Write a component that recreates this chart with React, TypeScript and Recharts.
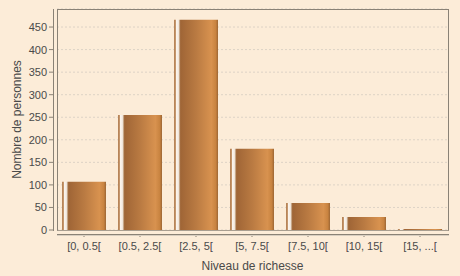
import { BarChart, Bar, XAxis, YAxis, CartesianGrid } from 'recharts'

const categories = ['[0, 0.5[', '[0.5, 2.5[', '[2.5, 5[', '[5, 7.5[', '[7.5, 10[', '[10, 15[', '[15, ...[']
const personnes = [107, 255, 466, 180, 60, 29, 2]
const yTicks = [0, 50, 100, 150, 200, 250, 300, 350, 400, 450]

const data = categories.map((c, i) => ({ cat: c, n: personnes[i] }))

const BG = '#FCECD8'
const AXIS = '#8A8276'
const TEXT = '#4a4a4a'
const FONT = '"Liberation Sans", Arial, sans-serif'

function YTick(props: any) {
  const { x, y, payload } = props
  return (
    <g>
      <line x1={x - 8} x2={x - 4} y1={y} y2={y} stroke={AXIS} />
      <text x={x - 10} y={y} dy={4} textAnchor="end" fontSize={11} fill={TEXT} fontFamily={FONT}>
        {payload.value}
      </text>
    </g>
  )
}

function XTick(props: any) {
  const { x, y, payload } = props
  return (
    <g>
      <line x1={x} x2={x} y1={y + 4} y2={y + 7} stroke={AXIS} />
      <text x={x} y={y + 20} textAnchor="middle" fontSize={11} fill={TEXT} fontFamily={FONT}>
        {payload.value}
      </text>
    </g>
  )
}

export default function App() {
  return (
    <div style={{ position: 'relative', width: 460, height: 276, background: BG, fontFamily: FONT }}>
      <style>{'body{margin:0}'}</style>
      <BarChart width={460} height={276} data={data} margin={{ top: 9, right: 12, bottom: 0, left: 0 }} barSize={44}>
        <defs>
          <linearGradient id="barGrad" x1="0" y1="0" x2="1" y2="0">
            <stop offset="0" stopColor="#b07c50" />
            <stop offset="0.04" stopColor="#c89a70" />
            <stop offset="0.05" stopColor="#fbf5ee" />
            <stop offset="0.1" stopColor="#f4ebe2" />
            <stop offset="0.12" stopColor="#cdb296" />
            <stop offset="0.15" stopColor="#9f6536" />
            <stop offset="0.5" stopColor="#b97a42" />
            <stop offset="0.85" stopColor="#d8924f" />
            <stop offset="0.95" stopColor="#c88340" />
            <stop offset="1" stopColor="#9c6634" />
          </linearGradient>
        </defs>
        <CartesianGrid vertical={false} stroke="#DDD3C6" strokeDasharray="2 2" />
        <XAxis
          dataKey="cat"
          height={46}
          axisLine={false}
          tickLine={false}
          tickSize={0}
          tickMargin={0}
          tick={<XTick />}
          interval={0}
          padding={{ left: -1, right: 0 }}
          label={{ value: 'Niveau de richesse', position: 'insideBottom', offset: 6, fontSize: 12, fill: TEXT, fontFamily: FONT }}
        />
        <YAxis
          width={57}
          domain={[0, 490]}
          ticks={yTicks}
          axisLine={false}
          tickLine={false}
          tickSize={0}
          tickMargin={0}
          tick={<YTick />}
          interval={0}
          label={{ value: 'Nombre de personnes', angle: -90, position: 'insideLeft', offset: 17, fontSize: 12, fill: TEXT, fontFamily: FONT, style: { textAnchor: 'middle' } }}
        />
        <Bar dataKey="n" fill="url(#barGrad)" isAnimationActive={false} />
      </BarChart>
      <div style={{ position: 'absolute', left: 57, top: 9, width: 392, height: 222, boxSizing: 'border-box', border: `1px solid ${AXIS}`, borderBottomColor: '#A89E90', pointerEvents: 'none' }} />
      <div style={{ position: 'absolute', left: 53, top: 9, width: 1, height: 222, background: AXIS }} />
      <div style={{ position: 'absolute', left: 57, top: 234, width: 392, height: 1, background: AXIS }} />
      <div style={{ position: 'absolute', left: 57, top: 235, width: 392, height: 1, background: '#D8CEC0' }} />
    </div>
  )
}
